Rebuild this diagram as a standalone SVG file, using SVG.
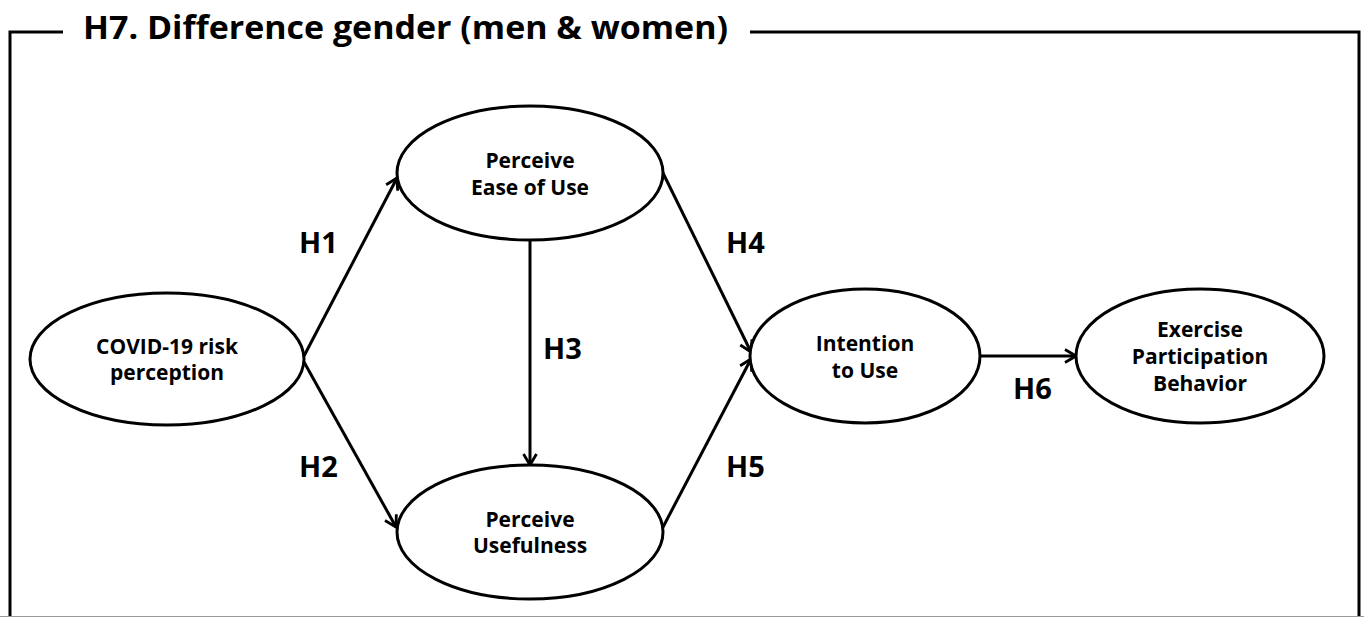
<svg xmlns="http://www.w3.org/2000/svg" width="1364" height="617" viewBox="0 0 1364 617">
  <style>
    .node ellipse { fill: #ffffff; stroke: #000000; stroke-width: 3; }
    .node text { font-family: "Open Sans", "Noto Sans", "Liberation Sans", sans-serif; font-weight: 700; font-size: 21px; fill: #000000; text-anchor: middle; }
    .edge { stroke: #000000; stroke-width: 3; fill: none; marker-end: url(#arr); }
    .lbl { font-family: "Open Sans", "Noto Sans", "Liberation Sans", sans-serif; font-weight: 700; font-size: 29px; fill: #000000; }
    .frame { stroke: #000000; stroke-width: 3; fill: none; }
    .title { font-family: "Open Sans", "Noto Sans", "Liberation Sans", sans-serif; font-weight: 700; font-size: 33px; fill: #000000; }
  </style>
  <defs>
    <marker id="arr" viewBox="0 0 16 16" refX="14" refY="8" markerWidth="16" markerHeight="16" orient="auto" markerUnits="userSpaceOnUse">
      <path d="M3,1.5 L14,8 L3,14.5" fill="none" stroke="#000000" stroke-width="2.8" stroke-linejoin="miter"/>
    </marker>
  </defs>
  <rect x="0" y="0" width="1364" height="617" fill="#ffffff"/>

  <g id="frame">
    <path class="frame" d="M63,32 H10 V617"/>
    <path class="frame" d="M750,32 H1359 V617"/>
    <line x1="0" y1="616.5" x2="1364" y2="616.5" stroke="#999999" stroke-width="1"/>
    <text class="title" x="83" y="39" textLength="645" lengthAdjust="spacingAndGlyphs">H7. Difference gender (men &amp; women)</text>
  </g>

  <g id="connectors">
    <line class="edge" x1="304" y1="356" x2="397" y2="178"/>
    <line class="edge" x1="304" y1="362" x2="396" y2="527"/>
    <line class="edge" x1="530" y1="240" x2="530" y2="465"/>
    <line class="edge" x1="662" y1="171" x2="751" y2="352"/>
    <line class="edge" x1="662" y1="529" x2="751" y2="359"/>
    <line class="edge" x1="980" y1="356" x2="1076" y2="356"/>
    <text class="lbl" x="299" y="253">H1</text>
    <text class="lbl" x="299" y="477">H2</text>
    <text class="lbl" x="543" y="359">H3</text>
    <text class="lbl" x="726" y="253">H4</text>
    <text class="lbl" x="726" y="477">H5</text>
    <text class="lbl" x="1013" y="399">H6</text>
  </g>

  <g id="node-covid" class="node">
    <ellipse cx="167" cy="359" rx="137" ry="66"/>
    <text x="167" y="354">COVID-19 risk</text>
    <text x="167" y="380">perception</text>
  </g>

  <g id="node-ease" class="node">
    <ellipse cx="530" cy="173" rx="133" ry="67"/>
    <text x="530" y="168">Perceive</text>
    <text x="530" y="195">Ease of Use</text>
  </g>

  <g id="node-usefulness" class="node">
    <ellipse cx="530" cy="532" rx="133" ry="67"/>
    <text x="530" y="527">Perceive</text>
    <text x="530" y="553">Usefulness</text>
  </g>

  <g id="node-intention" class="node">
    <ellipse cx="865" cy="356" rx="115" ry="67"/>
    <text x="865" y="351">Intention</text>
    <text x="865" y="378">to Use</text>
  </g>

  <g id="node-exercise" class="node">
    <ellipse cx="1200" cy="356" rx="124" ry="67"/>
    <text x="1200" y="337">Exercise</text>
    <text x="1200" y="364">Participation</text>
    <text x="1200" y="391">Behavior</text>
  </g>
</svg>
